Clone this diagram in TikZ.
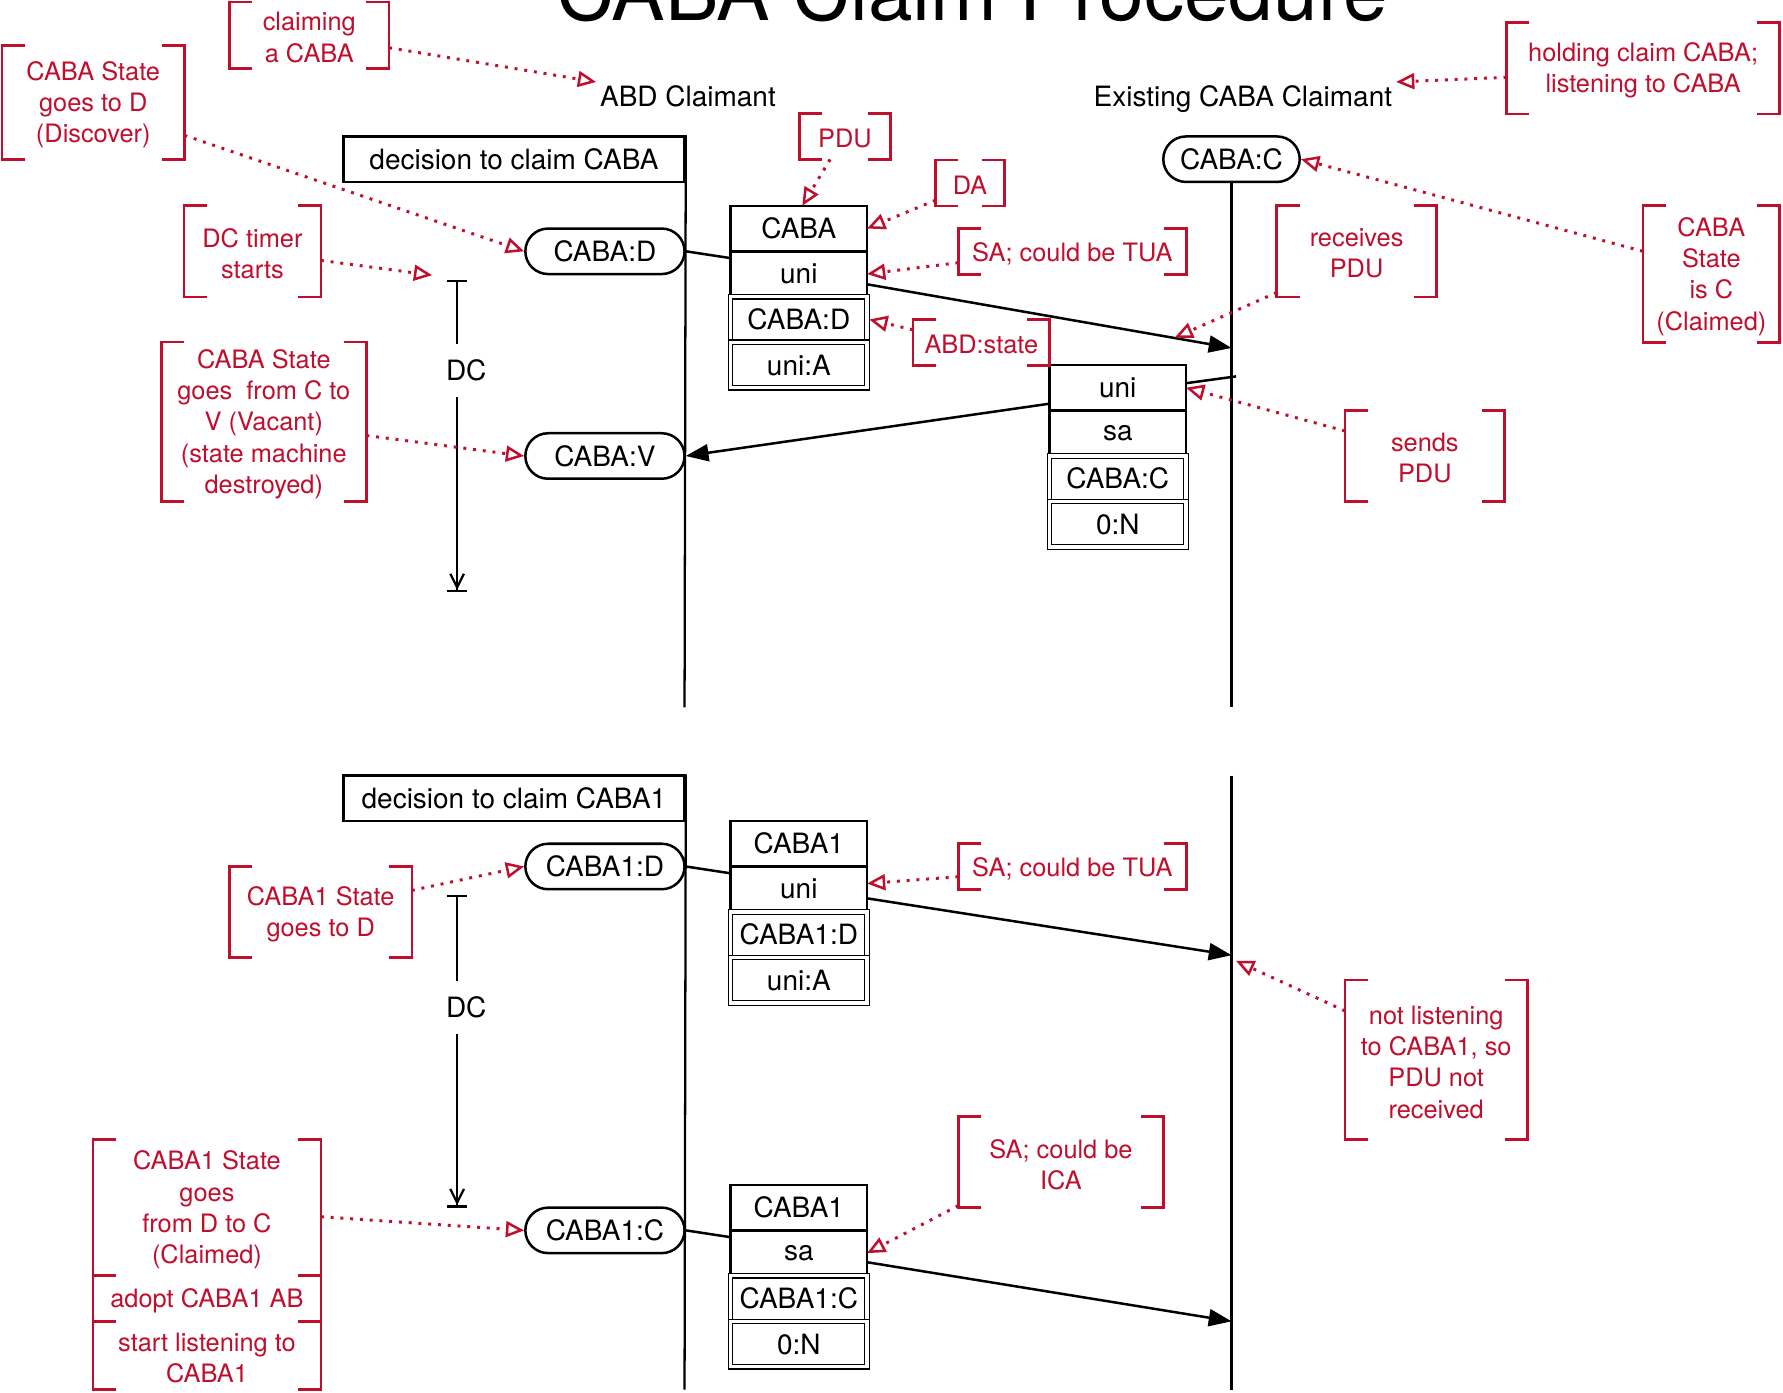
\documentclass[tikz,border=0pt]{standalone}
\usepackage{fontspec}
\setmainfont{TeX Gyre Heros}
\usetikzlibrary{arrows.meta,positioning}
\definecolor{notered}{RGB}{192,14,45}

\begin{document}
\begin{tikzpicture}[x=1pt,y=-1pt,font=\fontsize{24.6}{30}\selectfont,
  life/.style={line width=2pt},
  link/.style={line width=2.2pt},
  msg/.style={line width=2.2pt,-{Triangle[length=20pt,width=15pt]}},
  decision/.style={draw,line width=2.2pt,minimum width=300pt,minimum height=40pt,inner sep=0pt},
  state/.style={draw,line width=2.2pt,rounded corners=20pt,minimum width=140pt,minimum height=40pt,inner sep=0pt},
  cell/.style={draw,line width=2.2pt,minimum width=120pt,minimum height=40pt,inner sep=0pt,outer sep=0pt},
  dcell/.style={cell,line width=1.1pt,double,double distance=2.8pt},
  timer/.style={line width=2pt,{Bar[width=18pt,line width=2.2pt]}-{Straight Barb[length=12pt,width=12pt]Bar[width=18pt,line width=2.2pt]}},
  dclabel/.style={fill=white,inner xsep=2pt,inner ysep=14pt},
  note/.style={text=notered,font=\fontsize{22.3}{27.5}\selectfont,align=center,inner sep=0pt},
  bracket/.style={draw=notered,line width=2.4pt},
  remark/.style={notered,line width=2.6pt,dash pattern=on 2.6pt off 6pt,
    -{Triangle[open,length=16pt,width=14pt,line width=2.2pt]}}]

  \useasboundingbox (0,0) rectangle (1568,1225);

  \node[font=\fontsize{70.5}{80}\selectfont,anchor=base] (title) at (855,18) {CABA Claim Procedure};
  \node[anchor=base] (abd) at (605,94) {ABD Claimant};
  \node[anchor=base] (ecc) at (1093,94) {Existing CABA Claimant};

  % first claim
  \node[decision] (dec) at (452,140) {decision to claim CABA};
  \node[state] (capd) at (532,221) {CABA:D};
  \node[state] (capv) at (532,401) {CABA:V};
  \node[state,minimum width=120pt] (capc) at (1083,140) {CABA:C};

  \node[cell] (pcaba) at (702.5,201) {CABA};
  \node[cell,below=0pt of pcaba] (puni) {uni};
  \node[dcell,below=0pt of puni] (pstate) {CABA:D};
  \node[dcell,below=0pt of pstate] (paddr) {uni:A};

  \node[cell] (runi) at (983,341) {uni};
  \node[cell,below=0pt of runi] (rsa) {sa};
  \node[dcell,below=0pt of rsa] (rstate) {CABA:C};
  \node[dcell,below=0pt of rstate] (raddr) {0:N};

  \coordinate (lend) at (602,622);
  \coordinate (rend) at (1083,622);
  \coordinate (rin) at (1083,306);
  \coordinate (rout) at (1087,331);
  \coordinate (dctop) at (402,246);
  \coordinate (dcbot) at (402,521);

  \draw[life] (dec.north east) -- (lend);
  \draw[life] (capc.south) -- (rend);
  \draw[link] (capd.east) -- ([yshift=-6pt]puni.north west);
  \draw[msg] ([yshift=-9pt]puni.east) -- (rin);
  \draw[link] (rout) -- ([yshift=4pt]runi.east);
  \draw[msg] ([yshift=-14pt]runi.west) -- (capv.east);
  \draw[timer] (dctop) -- node[dclabel,pos=0.29,xshift=8pt] (dc) {DC} (dcbot);

  % second claim
  \node[decision] (dec1) at (452,702) {decision to claim CABA1};
  \node[state] (cap1d) at (532,762) {CABA1:D};
  \node[state] (cap1c) at (532,1082) {CABA1:C};

  \node[cell] (qcaba) at (702.5,742) {CABA1};
  \node[cell,below=0pt of qcaba] (quni) {uni};
  \node[dcell,below=0pt of quni] (qstate) {CABA1:D};
  \node[dcell,below=0pt of qstate] (qaddr) {uni:A};

  \node[cell] (scaba) at (702.5,1062) {CABA1};
  \node[cell,below=0pt of scaba] (ssa) {sa};
  \node[dcell,below=0pt of ssa] (sstate) {CABA1:C};
  \node[dcell,below=0pt of sstate] (saddr) {0:N};

  \coordinate (lend1) at (602,1222);
  \coordinate (rtop1) at (1083,682);
  \coordinate (rend1) at (1083,1222);
  \coordinate (rin1) at (1083,840);
  \coordinate (rin2) at (1083,1162);
  \coordinate (dctop1) at (402,787);
  \coordinate (dcbot1) at (402,1062);

  \draw[life] (dec1.north east) -- (lend1);
  \draw[life] (rtop1) -- (rend1);
  \draw[link] (cap1d.east) -- ([yshift=-6pt]quni.north west);
  \draw[msg] ([yshift=-8pt]quni.east) -- (rin1);
  \draw[link] (cap1c.east) -- ([yshift=-6pt]ssa.north west);
  \draw[msg] ([yshift=-8pt]ssa.east) -- (rin2);
  \draw[timer] (dctop1) -- node[dclabel,pos=0.36,xshift=8pt] (dc1) {DC} (dcbot1);

  % notes
  \node[note,minimum width=140pt,minimum height=58pt] (claiming) at (272,33) {claiming\\a CABA};
  \node[note,minimum width=160pt,minimum height=100pt] (godisc) at (82,92) {CABA State\\goes to D\\(Discover)};
  \node[note,minimum width=120pt,minimum height=80pt] (dcstart) at (222,223) {DC timer\\starts};
  \node[note,minimum width=180pt,minimum height=140pt] (govac) at (232,373) {CABA State\\goes\ \ from C to\\V (Vacant)\\(state machine\\destroyed)};
  \node[note,minimum width=80pt,minimum height=40pt] (pdu) at (743,122) {PDU};
  \node[note,minimum width=60pt,minimum height=40pt] (da) at (853,163) {DA};
  \node[note,minimum width=200pt,minimum height=40pt] (satua) at (943,223) {SA; could be TUA};
  \node[note,minimum width=120pt,minimum height=40pt] (abdstate) at (863,303) {ABD:state};
  \node[note,minimum width=240pt,minimum height=80pt] (holding) at (1445,62) {holding claim CABA;\\listening to CABA};
  \node[note,minimum width=140pt,minimum height=80pt] (receives) at (1193,223) {receives\\PDU};
  \node[note,minimum width=120pt,minimum height=120pt] (isclaimed) at (1505,243) {CABA\\State\\is C\\(Claimed)};
  \node[note,minimum width=140pt,minimum height=80pt] (sends) at (1253,403) {sends\\PDU};

  \node[note,minimum width=160pt,minimum height=80pt] (godisc1) at (282,804) {CABA1 State\\goes to D};
  \node[note,minimum width=200pt,minimum height=40pt] (satua1) at (943,764) {SA; could be TUA};
  \node[note,minimum width=160pt,minimum height=140pt] (notlisten) at (1263,934) {not listening\\to CABA1, so\\PDU not\\received};
  \node[note,minimum width=180pt,minimum height=80pt] (saica) at (933,1024) {SA; could be\\ICA};
  \node[note,minimum width=200pt,minimum height=120pt] (goclaim) at (182,1064) {CABA1 State\\goes\\from D to C\\(Claimed)};
  \node[note,minimum width=200pt,minimum height=40pt] (adopt) at (182,1144) {adopt CABA1 AB};
  \node[note,minimum width=200pt,minimum height=60pt] (listen) at (182,1194) {start listening to\\CABA1};

  \foreach \n in {claiming,godisc,dcstart,govac,pdu,da,satua,abdstate,holding,receives,isclaimed,sends,
                  godisc1,satua1,notlisten,saica,goclaim,adopt,listen} {
    \draw[bracket] ([shift={(20pt,2pt)}]\n.north west) -| ([yshift=2pt]\n.south west) -- ++(20pt,0)
                   ([shift={(-20pt,2pt)}]\n.north east) -| ([yshift=2pt]\n.south east) -- ++(-20pt,0);
  }

  \draw[remark] ([yshift=-9pt]claiming.east) -- (abd.north west);
  \draw[remark] ([yshift=-27pt]godisc.east) -- (capd.west);
  \draw[remark] ([yshift=-6pt]dcstart.east) -- ([shift={(-22pt,4pt)}]dctop);
  \draw[remark] ([yshift=-10pt]govac.east) -- (capv.west);
  \draw[remark] ([shift={(-13pt,2pt)}]pdu.south) -- ([xshift=3pt]pcaba.north);
  \draw[remark] ([yshift=-13pt]da.west) -- (pcaba.east);
  \draw[remark] ([yshift=-8pt]satua.west) -- (puni.east);
  \draw[remark] ([yshift=13pt]abdstate.west) -- ([xshift=2pt]pstate.east);
  \draw[remark] ([yshift=-6pt]holding.west) -- (ecc.north east);
  \draw[remark] ([yshift=6pt]receives.south west) -- ([shift={(-50pt,9pt)}]rin);
  \draw[remark] ([yshift=22pt]isclaimed.west) -- (capc.east);
  \draw[remark] ([yshift=24pt]sends.west) -- (runi.east);

  \draw[remark] ([yshift=21pt]godisc1.east) -- (cap1d.west);
  \draw[remark] ([yshift=-7pt]satua1.west) -- ([yshift=5pt]quni.east);
  \draw[remark] ([yshift=45pt]notlisten.west) -- ([shift={(4pt,-5pt)}]rin1);
  \draw[remark] ([yshift=4pt]saica.south west) -- (ssa.east);
  \draw[remark] ([yshift=-6pt]goclaim.east) -- (cap1c.west);
\end{tikzpicture}
\end{document}
